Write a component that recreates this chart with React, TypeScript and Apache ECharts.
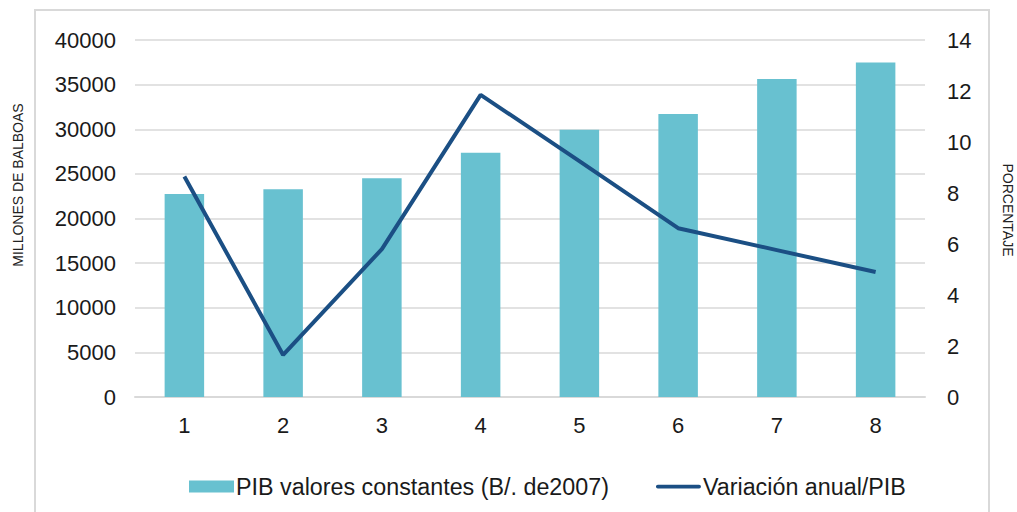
import React, { useEffect, useRef } from "react";
import * as echarts from "echarts";

const categories = ["1", "2", "3", "4", "5", "6", "7", "8"];
const pibValues = [22750, 23280, 24500, 27380, 29950, 31720, 35620, 37470];
const variacionValues = [8.65, 1.65, 5.8, 11.85, 9.25, 6.62, 5.76, 4.9];
const leftTicks = { min: 0, max: 40000, interval: 5000 };
const rightTicks = { min: 0, max: 14, interval: 2 };
const barName = "PIB valores constantes (B/. de2007)";
const lineName = "Variación anual/PIB";
const leftAxisTitle = "MILLONES DE BALBOAS";
const rightAxisTitle = "PORCENTAJE";

export default function App() {
  const ref = useRef<HTMLDivElement>(null);
  useEffect(() => {
    if (!ref.current) return;
    const chart = echarts.init(ref.current, undefined, { renderer: "svg" });
    const font = "'Liberation Sans', Arial, sans-serif";
    const narrow = "'Liberation Sans Narrow', 'Liberation Sans', Arial, sans-serif";
    chart.setOption({
      animation: false,
      backgroundColor: "#ffffff",
      textStyle: { fontFamily: font },
      grid: { left: 135, right: 92, top: 40, bottom: 115 },
      graphic: [
        {
          type: "rect",
          shape: { x: 35, y: 10, width: 954, height: 520 },
          style: { fill: "none", stroke: "#d9d9d9", lineWidth: 2 },
          silent: true,
        },
        {
          type: "text",
          x: 18,
          y: 185,
          rotation: Math.PI / 2,
          style: {
            text: leftAxisTitle,
            fontFamily: narrow,
            fontSize: 14,
            fill: "#222",
            align: "center",
            verticalAlign: "middle",
          },
        },
        {
          type: "text",
          x: 1008,
          y: 210,
          rotation: -Math.PI / 2,
          style: {
            text: rightAxisTitle,
            fontFamily: narrow,
            fontSize: 14,
            fill: "#222",
            align: "center",
            verticalAlign: "middle",
          },
        },
      ],
      legend: {
        top: 475,
        left: 189,
        padding: 0,
        itemWidth: 45,
        itemHeight: 12,
        itemGap: 47,
        symbolKeepAspect: true,
        textStyle: { fontSize: 23.3, color: "#1a1a1a", fontFamily: font, padding: [0, 0, 0, -3] },
        data: [
          { name: barName, icon: "rect" },
          { name: lineName, icon: "path://M2,0H46A2,2 0 0 1 46,4H2A2,2 0 0 1 2,0Z" },
        ],
      },
      xAxis: {
        type: "category",
        data: categories,
        axisLine: { lineStyle: { color: "#d9d9d9", width: 2 } },
        axisTick: { show: false },
        axisLabel: { fontSize: 22, color: "#1a1a1a", margin: 17, fontFamily: font },
      },
      yAxis: [
        {
          type: "value",
          ...leftTicks,
          axisLine: { show: false },
          axisTick: { show: false },
          axisLabel: {
            fontSize: 22,
            color: "#1a1a1a",
            margin: 19,
            fontFamily: font,
            formatter: (v: number) => String(v),
          },
          splitLine: { lineStyle: { color: "#d9d9d9", width: 1.5 } },
        },
        {
          type: "value",
          ...rightTicks,
          axisLine: { show: false },
          axisTick: { show: false },
          axisLabel: {
            fontSize: 22,
            color: "#1a1a1a",
            margin: 22,
            fontFamily: font,
            formatter: (v: number) => String(v),
          },
          splitLine: { show: false },
        },
      ],
      series: [
        {
          name: barName,
          type: "bar",
          data: pibValues,
          barWidth: "40%",
          itemStyle: { color: "#68c1d0" },
          yAxisIndex: 0,
        },
        {
          name: lineName,
          type: "line",
          data: variacionValues,
          yAxisIndex: 1,
          symbol: "none",
          lineStyle: { color: "#1b4f84", width: 4 },
          itemStyle: { color: "#1b4f84" },
        },
      ],
    });
    return () => chart.dispose();
  }, []);
  return (
    <div
      ref={ref}
      style={{ position: "absolute", left: 0, top: 0, width: 1017, height: 512 }}
    />
  );
}
